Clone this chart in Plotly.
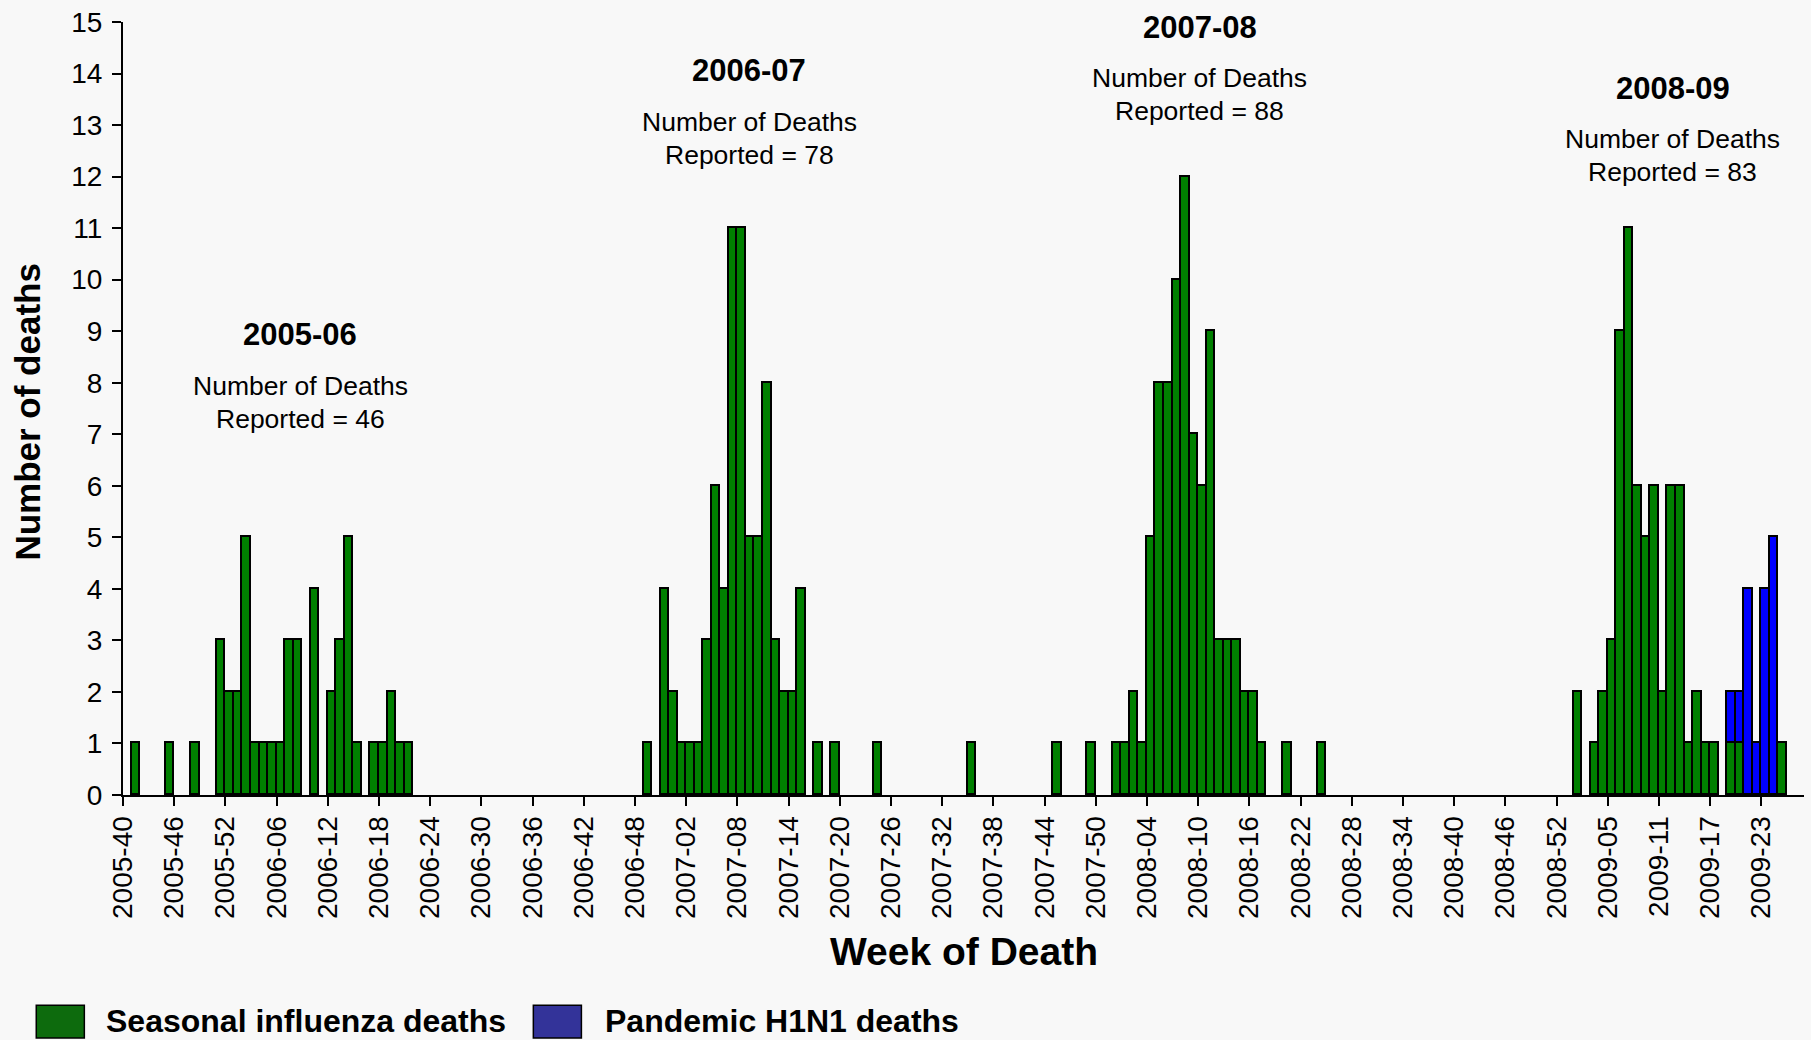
import plotly.graph_objects as go

# week categories (ISO-like weeks, 2008 has 53)
YEAR_WEEKS = [(2005, 40, 52), (2006, 1, 52), (2007, 1, 52), (2008, 1, 53), (2009, 1, 27)]
weeks = [f"{y}-{w:02d}" for y, first, last in YEAR_WEEKS for w in range(first, last + 1)]

seasonal_weeks = [
    "2005-41", "2005-45", "2005-48", "2005-51", "2005-52", "2006-01", "2006-02", "2006-03",
    "2006-04", "2006-05", "2006-06", "2006-07", "2006-08", "2006-10", "2006-12", "2006-13",
    "2006-14", "2006-15", "2006-17", "2006-18", "2006-19", "2006-20", "2006-21",
    "2006-49", "2006-51", "2006-52", "2007-01", "2007-02", "2007-03", "2007-04", "2007-05",
    "2007-06", "2007-07", "2007-08", "2007-09", "2007-10", "2007-11", "2007-12", "2007-13",
    "2007-14", "2007-15", "2007-17", "2007-19", "2007-24", "2007-35",
    "2007-45", "2007-49", "2007-52", "2008-01", "2008-02", "2008-03", "2008-04", "2008-05",
    "2008-06", "2008-07", "2008-08", "2008-09", "2008-10", "2008-11", "2008-12", "2008-13",
    "2008-14", "2008-15", "2008-16", "2008-17", "2008-20", "2008-24",
    "2009-01", "2009-03", "2009-04", "2009-05", "2009-06", "2009-07", "2009-08", "2009-09",
    "2009-10", "2009-11", "2009-12", "2009-13", "2009-14", "2009-15", "2009-16", "2009-17",
    "2009-19", "2009-20", "2009-25",
]
seasonal_deaths = [
    1, 1, 1, 3, 2, 2, 5, 1,
    1, 1, 1, 3, 3, 4, 2, 3,
    5, 1, 1, 1, 2, 1, 1,
    1, 4, 2, 1, 1, 1, 3, 6,
    4, 11, 11, 5, 5, 8, 3, 2,
    2, 4, 1, 1, 1, 1,
    1, 1, 1, 1, 2, 1, 5, 8,
    8, 10, 12, 7, 6, 9, 3, 3,
    3, 2, 2, 1, 1, 1,
    2, 1, 2, 3, 9, 11, 6, 5,
    6, 2, 6, 6, 1, 2, 1, 1,
    1, 1, 1,
]

pandemic_weeks = ["2009-19", "2009-20", "2009-21", "2009-22", "2009-23", "2009-24"]
pandemic_deaths = [1, 1, 4, 1, 4, 5]

season_names = ["2005-06", "2006-07", "2007-08", "2008-09"]
season_totals = [46, 78, 88, 83]
# label centre (week index, y value) for each season block
season_label_x = [20.3, 72.9, 125.7, 181.1]
season_label_y = [8.87, 14.0, 14.84, 13.66]

tick_labels = weeks[::6]

FONT = "Liberation Sans, Arial, sans-serif"
BG = "#f8f8f8"

fig = go.Figure()

fig.add_trace(
    go.Bar(
        x=[weeks.index(w) for w in seasonal_weeks],
        y=seasonal_deaths,
        name="Seasonal influenza deaths",
        marker={"color": "#008000", "line": {"color": "#000000", "width": 1.8}},
        showlegend=False,
    )
)
fig.add_trace(
    go.Bar(
        x=[weeks.index(w) for w in pandemic_weeks],
        y=pandemic_deaths,
        name="Pandemic H1N1 deaths",
        marker={"color": "#0000ff", "line": {"color": "#000000", "width": 1.8}},
        showlegend=False,
    )
)

annotations = []
for name, total, xc, yc in zip(season_names, season_totals, season_label_x, season_label_y):
    annotations.append(dict(
        x=xc, y=yc, xref="x", yref="y", yshift=3, text=f"<b>{name}</b>", showarrow=False,
        xanchor="center", yanchor="middle",
        font={"size": 31, "color": "#000000", "family": FONT},
    ))
    annotations.append(dict(
        x=xc, y=yc, xref="x", yref="y", yshift=-48, text="Number of Deaths", showarrow=False,
        xanchor="center", yanchor="middle",
        font={"size": 26.5, "color": "#000000", "family": FONT},
    ))
    annotations.append(dict(
        x=xc, y=yc, xref="x", yref="y", yshift=-81, text=f"Reported = {total}", showarrow=False,
        xanchor="center", yanchor="middle",
        font={"size": 26.5, "color": "#000000", "family": FONT},
    ))

# axis titles
annotations.append(dict(
    x=-0.0565, y=0.496, xref="paper", yref="paper", text="<b>Number of deaths</b>",
    textangle=-90, showarrow=False, xanchor="center", yanchor="middle",
    font={"size": 35, "color": "#000000", "family": FONT},
))
annotations.append(dict(
    x=0.5, y=-0.2023, xref="paper", yref="paper", text="<b>Week of Death</b>",
    showarrow=False, xanchor="center", yanchor="middle",
    font={"size": 39, "color": "#000000", "family": FONT},
))

# custom legend (swatch colours differ from the bars in the original)
legend_items = [
    ("Seasonal influenza deaths", "#0d6b0d", -0.0516, -0.0230, -0.0111),
    ("Pandemic H1N1 deaths", "#333399", 0.2441, 0.2727, 0.2857),
]
shapes = []
for label, color, x0, x1, xt in legend_items:
    shapes.append(dict(
        type="rect", xref="paper", yref="paper", x0=x0, x1=x1, y0=-0.272, y1=-0.3145,
        fillcolor=color, line={"color": "#000000", "width": 1.5},
    ))
    annotations.append(dict(
        x=xt, y=-0.2926, xref="paper", yref="paper", xanchor="left", yanchor="middle",
        height=32, valign="middle",
        text=f"<b>{label}</b>", showarrow=False,
        font={"size": 32, "color": "#000000", "family": FONT},
    ))

fig.update_layout(
    width=1811,
    height=1040,
    margin={"l": 123, "r": 7, "t": 16.5, "b": 244.5, "pad": 0},
    paper_bgcolor=BG,
    plot_bgcolor=BG,
    barmode="stack",
    bargap=0,
    showlegend=False,
    font={"family": FONT, "color": "#000000"},
    annotations=annotations,
    shapes=shapes,
)

fig.update_xaxes(
    range=[-0.5, len(weeks) - 0.5],
    tickmode="array",
    tickvals=[i - 0.5 for i in range(0, len(weeks), 6)],
    ticktext=tick_labels,
    tickangle=-90,
    ticks="outside",
    ticklen=9,
    tickwidth=2,
    tickcolor="#000000",
    showline=True,
    linecolor="#000000",
    linewidth=2,
    showgrid=False,
    zeroline=False,
    tickfont={"size": 28, "color": "#000000", "family": FONT},
    ticklabelstandoff=-1,
    ticklabeloverflow="allow",
)
fig.update_yaxes(
    range=[0, 15],
    dtick=1,
    ticks="outside",
    ticklen=9,
    tickwidth=2,
    tickcolor="#000000",
    showline=True,
    linecolor="#000000",
    linewidth=2,
    showgrid=False,
    zeroline=False,
    tickfont={"size": 28, "color": "#000000", "family": FONT},
    ticklabelstandoff=4,
    ticklabeloverflow="allow",
)

# drop the default page margin so the figure sits at the window origin
fig.write_html(
    "out.html",
    config={"displayModeBar": False},
    post_script="document.body.style.margin='0';document.body.style.background='#f8f8f8';",
)
